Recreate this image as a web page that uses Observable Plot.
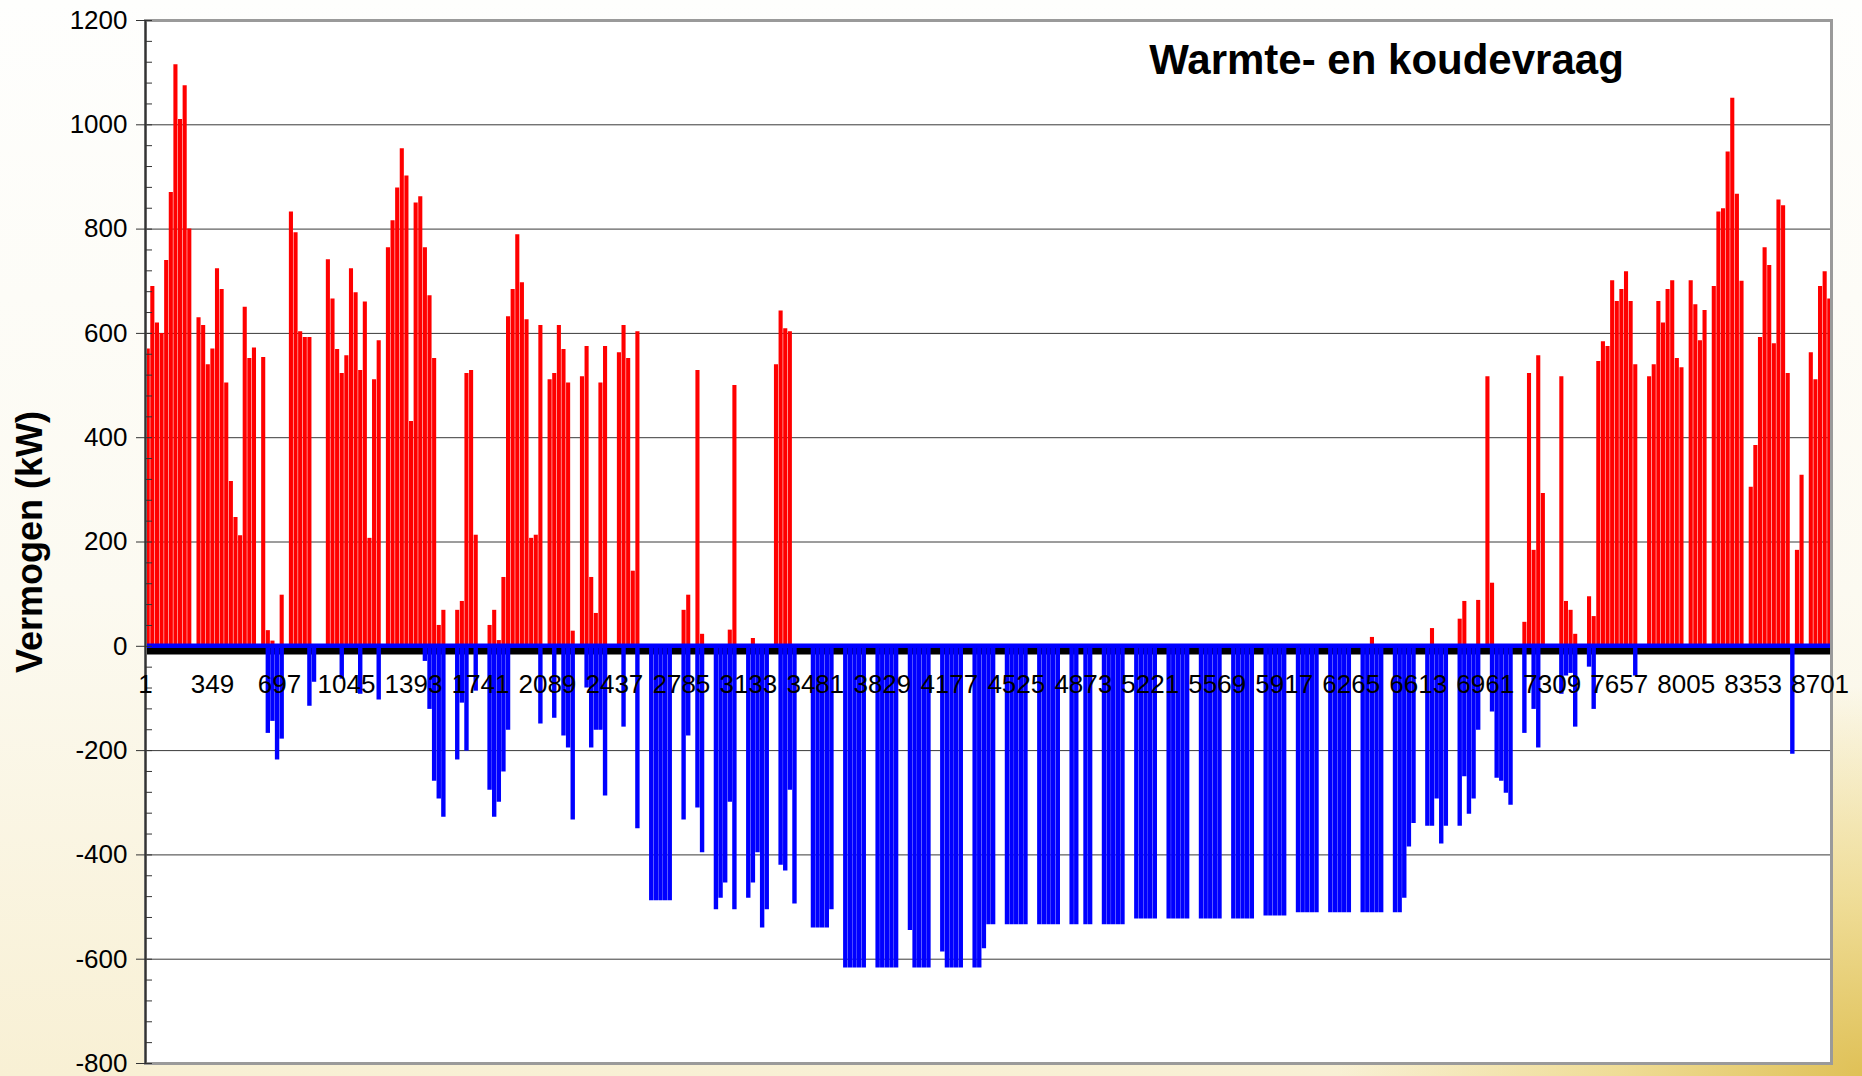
<!DOCTYPE html>
<html>
<head>
<meta charset="utf-8">
<script src="https://cdn.jsdelivr.net/npm/d3@7"></script>
<script src="https://cdn.jsdelivr.net/npm/@observablehq/plot@0.6"></script>
<style>
  html, body { margin: 0; padding: 0; }
  body {
    width: 1862px; height: 1076px; overflow: hidden;
    background:
      radial-gradient(ellipse 700px 520px at 100% 100%, rgba(222,190,80,0.95) 0%, rgba(236,214,130,0.75) 35%, rgba(248,238,200,0) 75%),
      linear-gradient(to bottom, #fefefd 0%, #fcfaf1 55%, #f8f0d4 100%);
  }
  #chart svg { display: block; }
</style>
</head>
<body>
<div id="chart"></div>
<script>
// Daily peak heat demand (kW), one value per day
const heatJan = [570,690,620,600,740,870,1115,1010,1075,800,0,630,615,540,570,724,684,505,316,247,212,650,552,572,0,554,30,10,0,98,0];
const heatFeb = [833,793,603,592,592,0,0,0,741,666,569,523,557,724,678,529,660,207,511,586,0,764,816,879,954,902,431,850];
const heatMar = [862,764,672,552,40,69,0,0,69,86,523,529,213,0,0,40,69,11,132,632,684,789,697,626,207,213,615,0,511,523,615];
const heatApr = [569,505,29,0,517,575,132,63,505,575,0,0,563,615,552,144,603,0,0,0,0,0,0,0,0,0,69,98,0,529];
const heatMay = [23,0,0,0,0,0,31,500,0,0,0,15,0,0,0,0,540,643,609,603,0,0,0,0,0,0,0,0,0,0,0];
const heatJun = [0,0,0,0,0,0,0,0,0,0,0,0,0,0,0,0,0,0,0,0,0,0,0,0,0,0,0,0,0,0];
const heatJul = [0,0,0,0,0,0,0,0,0,0,0,0,0,0,0,0,0,0,0,0,0,0,0,0,0,0,0,0,0,0,0];
const heatAug = [0,0,0,0,0,0,0,0,0,0,0,0,0,0,0,0,0,0,0,0,0,0,0,0,0,0,0,0,0,0,0];
const heatSep = [0,0,0,0,0,0,0,0,0,0,0,0,0,0,0,0,0,0,0,0,0,0,17,0,0,0,0,0,0,0];
const heatOct = [0,0,0,0,0,34,0,0,0,0,0,52,86,0,0,88,0,517,121,0,0,0,0,0,0,46,523,184,557,293,0];
const heatNov = [0,0,517,86,69,23,0,0,95,57,546,584,575,701,661,684,718,661,540,0,0,517,540,661,620,684,701,552,534,0];
const heatDec = [701,655,586,644,0,690,833,839,948,1051,867,700,0,305,385,592,764,730,580,856,845,523,0,184,328,0,563,511,690,718,666];

// Daily peak cooling demand (kW, negative)
const coolJan = [0,0,0,0,0,0,0,0,0,0,0,0,0,0,0,0,0,0,0,0,0,0,0,0,0,0,-167,-144,-218,-178,0];
const coolFeb = [0,0,0,0,-115,-69,0,0,0,0,0,-63,0,0,0,-92,0,0,0,-103,0,0,0,0,0,0,0,0];
const coolMar = [0,-29,-121,-259,-293,-328,0,0,-218,-109,-201,0,-86,0,0,-276,-328,-299,-241,-161,0,0,0,0,0,0,-149,0,0,-138,0];
const coolApr = [-172,-195,-333,0,0,-80,-195,-161,-161,-287,0,0,0,-155,0,0,-350,0,0,-488,-488,-488,-488,-488,0,0,-333,-172,0,-310];
const coolMay = [-396,0,0,-505,-483,-454,-299,-505,0,0,-483,-454,-396,-540,-505,0,0,-420,-431,-276,-494,0,0,0,-540,-540,-540,-540,-505,0,0];
const coolJun = [-617,-617,-617,-617,-617,0,0,-617,-617,-617,-617,-617,0,0,-545,-617,-617,-617,-617,0,0,-586,-617,-617,-617,-617,0,0,-617,-617];
const coolJul = [-580,-534,-534,0,0,-534,-534,-534,-534,-534,0,0,-534,-534,-534,-534,-534,0,0,-534,-534,0,-534,-534,0,0,-534,-534,-534,-534,-534];
const coolAug = [0,0,-523,-523,-523,-523,-523,0,0,-523,-523,-523,-523,-523,0,0,-523,-523,-523,-523,-523,0,0,-523,-523,-523,-523,-523,0,0,-517];
const coolSep = [-517,-517,-517,-517,0,0,-511,-511,-511,-511,-511,0,0,-511,-511,-511,-511,-511,0,0,-511,-511,-511,-511,-511,0,0,-511,-511,-483];
const coolOct = [-385,-340,0,0,-345,-345,-293,-379,-345,0,0,-345,-250,-322,-293,-161,0,0,-126,-253,-259,-282,-305,0,0,-167,0,-121,-195,0,0];
const coolNov = [0,0,-92,-57,-52,-155,0,0,-40,-121,0,0,0,0,0,0,0,0,-57,0,0,0,0,0,0,0,0,0,0,0];
const coolDec = [0,0,0,0,0,0,0,0,0,0,0,0,0,0,0,0,0,0,0,0,0,0,-207,0,0,0,0,0,0,0,0];

const xTickLabels = [1,349,697,1045,1393,1741,2089,2437,2785,3133,3481,3829,4177,4525,4873,5221,5569,5917,6265,6613,6961,7309,7657,8005,8353,8701];
const yTickLabels = [-800,-600,-400,-200,0,200,400,600,800,1000,1200];

const heatMonths = [heatJan,heatFeb,heatMar,heatApr,heatMay,heatJun,heatJul,heatAug,heatSep,heatOct,heatNov,heatDec];
const coolMonths = [coolJan,coolFeb,coolMar,coolApr,coolMay,coolJun,coolJul,coolAug,coolSep,coolOct,coolNov,coolDec];

const heatDays = heatMonths.flat();
const coolDays = coolMonths.flat();
// hour index of the middle of each day (hours 1..8760)
const heatRows = heatDays.map((v, i) => ({hour: i * 24 + 12.5, value: v})).filter(d => d.value !== 0);
const coolRows = coolDays.map((v, i) => ({hour: i * 24 + 12.5, value: v})).filter(d => d.value !== 0);

const yMinor = d3.range(-800, 1201, 40);
const font = "'Liberation Sans', Arial, Helvetica, sans-serif";

const chart = Plot.plot({
  width: 1862,
  height: 1076,
  marginLeft: 145,
  marginRight: 31,
  marginTop: 20,
  marginBottom: 13,
  style: {background: "transparent", fontFamily: font, color: "black", overflow: "visible"},
  x: {domain: [1, 8760], axis: null},
  y: {domain: [-800, 1200], label: null},
  marks: [
    Plot.frame({fill: "white", stroke: "none"}),
    Plot.gridY(yTickLabels, {stroke: "#3a3a3a", strokeOpacity: 1, strokeWidth: 1}),
    Plot.ruleY([0], {stroke: "black", strokeWidth: 6.5, dy: 5}),
    Plot.ruleX(heatRows, {x: "hour", y1: 0, y2: "value", stroke: "#ff0000", strokeWidth: 4.1}),
    Plot.ruleX(coolRows, {x: "hour", y1: 0, y2: "value", stroke: "#0000ff", strokeWidth: 4.4}),
    Plot.ruleY([0], {stroke: "#0000ff", strokeWidth: 4.4, dy: -0.5}),
    Plot.frame({stroke: "#9a9a9a", strokeWidth: 3, fill: "none"}),
    Plot.ruleX([1], {stroke: "#333", strokeWidth: 2}),
    Plot.axisY({ticks: yTickLabels, tickSize: 9, tickPadding: 9, fontSize: 26, tickFormat: d => String(d), label: null, stroke: "#333"}),
    Plot.axisY({ticks: yMinor, tickSize: 7, dx: 7, tickFormat: () => "", label: null, stroke: "#333"}),
    Plot.text(xTickLabels, {x: d => d, y: 0, text: d => String(d), dy: 38, fontSize: 26, textAnchor: "middle", lineAnchor: "middle", fill: "black"}),
    Plot.text(["Warmte- en koudevraag"], {frameAnchor: "top-right", dx: -445, dy: 40, textAnchor: "middle", lineAnchor: "middle", fontSize: 42, fontWeight: "bold", fill: "black"}),
    Plot.text(["Vermogen (kW)"], {frameAnchor: "left", rotate: -90, dx: -115, textAnchor: "middle", lineAnchor: "middle", fontSize: 36, fontWeight: "bold", fill: "black"})
  ]
});
document.getElementById("chart").appendChild(chart);
</script>
</body>
</html>
